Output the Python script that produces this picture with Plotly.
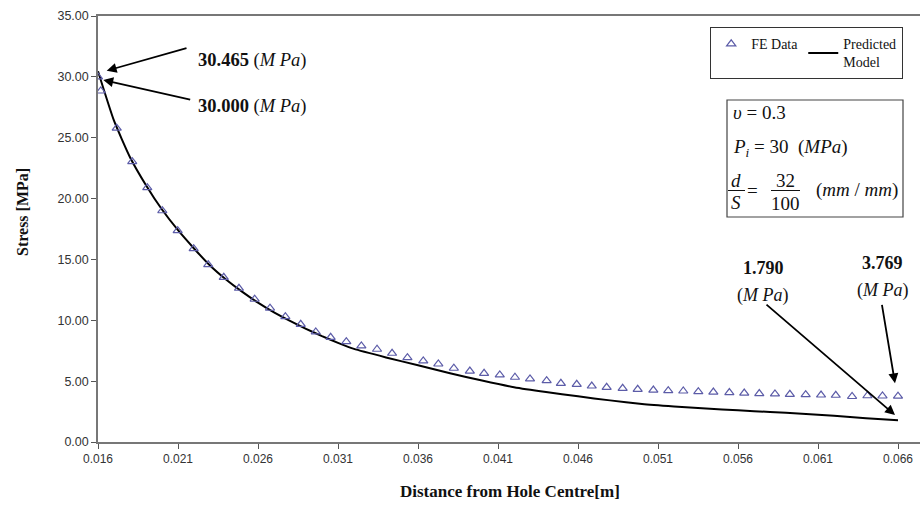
import plotly.graph_objects as go

# ---------------- data ----------------
fe_x_mm = [16.0, 16.17, 17.17, 18.14, 19.08, 20.02, 20.98, 21.98, 22.89, 23.86,
           24.81, 25.79, 26.75, 27.71, 28.67, 29.61, 30.54, 31.52, 32.46, 33.44,
           34.38, 35.34, 36.33, 37.27, 38.24, 39.24, 40.13, 41.11, 42.06, 43.0,
           44.04, 44.93, 45.92, 46.86, 47.79, 48.79, 49.73, 50.71, 51.64, 52.58,
           53.52, 54.46, 55.46, 56.39, 57.33, 58.31, 59.24, 60.23, 61.19, 62.11,
           63.13, 64.09, 65.03, 66.0]
fe_stress = [30.00, 28.84, 25.78, 23.03, 20.90, 19.00, 17.36, 15.88, 14.57, 13.53,
             12.63, 11.73, 10.99, 10.30, 9.67, 9.04, 8.60, 8.24, 7.89, 7.62,
             7.29, 6.93, 6.66, 6.41, 6.06, 5.83, 5.64, 5.51, 5.32, 5.18,
             5.04, 4.82, 4.74, 4.60, 4.49, 4.41, 4.33, 4.27, 4.22, 4.19,
             4.14, 4.10, 4.06, 4.02, 3.98, 3.95, 3.92, 3.89, 3.86, 3.84,
             3.74, 3.80, 3.78, 3.769]

model_x_mm = [16, 17, 18, 19, 20, 21, 22, 23, 24, 25, 26, 27, 28, 29, 30, 31, 32,
              34, 36, 38, 40, 42, 44, 46, 48, 50, 52, 54, 56, 58, 60, 62, 64, 66]
model_stress = [30.465, 26.4, 23.4, 21.1, 19.1, 17.4, 15.9, 14.5, 13.35, 12.35,
                11.45, 10.65, 9.95, 9.3, 8.7, 8.15, 7.65, 6.95, 6.3, 5.65, 5.05,
                4.5, 4.1, 3.75, 3.42, 3.12, 2.92, 2.76, 2.6, 2.47, 2.33, 2.15,
                1.95, 1.79]

x_ticks = [0.016, 0.021, 0.026, 0.031, 0.036, 0.041, 0.046, 0.051, 0.056, 0.061, 0.066]
x_tick_labels = ["0.016", "0.021", "0.026", "0.031", "0.036", "0.041",
                 "0.046", "0.051", "0.056", "0.061", "0.066"]
y_ticks = [0, 5, 10, 15, 20, 25, 30, 35]
y_tick_labels = ["0.00", "5.00", "10.00", "15.00", "20.00", "25.00", "30.00", "35.00"]

fe_x = [v / 1000 for v in fe_x_mm]
model_x = [v / 1000 for v in model_x_mm]

# ---------------- layout geometry (pixels) ----------------
W, H = 920, 512
L, R, T, B = 98, 0, 16, 70
PW, PH = W - L - R, H - T - B
XMIN = 0.016
PX_PER_M = 16000.0
XMAX = XMIN + PW / PX_PER_M
YMAX = 35.0


def px2x(px):
    return XMIN + (px - L) / PX_PER_M


def py2y(py):
    return (H - B - py) * YMAX / PH


def px2p(px):
    return (px - L) / PW


def py2p(py):
    return (H - B - py) / PH


SERIF = "Liberation Serif, Times New Roman, serif"
SANS = "Liberation Sans, Arial, sans-serif"

fig = go.Figure()
fig.add_trace(go.Scatter(
    x=model_x, y=model_stress, mode="lines", name="Predicted<br>Model",
    line=dict(color="black", width=2, shape="spline", smoothing=0.5),
    legendrank=2))
fig.add_trace(go.Scatter(
    x=fe_x, y=fe_stress, mode="markers", name="FE Data",
    marker=dict(symbol="triangle-up-open", size=8, color="#5c5ca8",
                line=dict(width=1.2, color="#5c5ca8")),
    legendrank=1))

annotations = []
# arrows (text-less annotations)
arrows = [
    ((106.7, 70.7), (188, 47.7)),
    ((103.3, 80.0), (191.7, 100.0)),
    ((895, 415.0), (765, 303.3)),
    ((895, 383.3), (881.7, 303.3)),
]
for (hx, hy), (tx, ty) in arrows:
    annotations.append(dict(
        x=px2x(hx), y=py2y(hy), ax=px2x(tx), ay=py2y(ty), axref="x", ayref="y",
        xref="x", yref="y", text="", showarrow=True, arrowhead=2, arrowsize=1.1,
        arrowwidth=1.8, arrowcolor="black"))


def txt(px, py, text, size=18, xanchor="center", font=SERIF, **kw):
    annotations.append(dict(
        x=px2p(px), y=py2p(py), xref="paper", yref="paper", text=text,
        showarrow=False, xanchor=xanchor, yanchor="middle",
        font=dict(family=font, size=size, color="#111"), **kw))


txt(196, 61, "<b>30.465</b> (<i>M Pa</i>)", size=18.5, xanchor="left")
txt(196, 106.7, "<b>30.000</b> (<i>M Pa</i>)", size=18.5, xanchor="left")
txt(763, 268, "<b>1.790</b>")
txt(763, 295, "(<i>M Pa</i>)")
txt(882, 263, "<b>3.769</b>")
txt(883, 290, "(<i>M Pa</i>)")

# parameter box text
txt(731, 113, "<i>υ</i> = 0.3", size=19, xanchor="left")
txt(731, 148, "<i>P<sub>i</sub></i> = 30  (<i>MPa</i>)", size=19, xanchor="left")
txt(736, 180, "<i>d</i>", size=19)
txt(736, 202, "<i>S</i>", size=19)
txt(752, 190, "=", size=19)
txt(785, 180, "32", size=19)
txt(785, 203, "100", size=19)
txt(857, 190, "(<i>mm</i> / <i>mm</i>)", size=19)

# axis titles
txt(22, 212, "<b>Stress [MPa]</b>", size=16, textangle=-90)
txt(510, 491, "<b>Distance from Hole Centre[m]</b>", size=17)

shapes = [
    dict(type="rect", xref="paper", yref="paper",
         x0=px2p(727), x1=px2p(903), y0=py2p(217), y1=py2p(100),
         line=dict(color="#444", width=1.2)),
    dict(type="line", xref="paper", yref="paper",
         x0=px2p(728), x1=px2p(745), y0=py2p(190.5), y1=py2p(190.5),
         line=dict(color="#111", width=1)),
    dict(type="line", xref="paper", yref="paper",
         x0=px2p(771), x1=px2p(800), y0=py2p(190.5), y1=py2p(190.5),
         line=dict(color="#111", width=1)),
]

fig.update_layout(
    width=W, height=H, margin=dict(l=L, r=R, t=T, b=B, pad=0),
    paper_bgcolor="white", plot_bgcolor="white",
    font=dict(family=SANS, color="#222"),
    xaxis=dict(range=[XMIN, XMAX], tickmode="array", tickvals=x_ticks,
               ticktext=x_tick_labels, ticks="outside", ticklen=5,
               tickcolor="#555", showline=True, linecolor="#777", linewidth=1.5,
               mirror=True, showgrid=False, zeroline=False,
               tickfont=dict(family=SANS, size=12, color="#333")),
    yaxis=dict(range=[0, YMAX], tickmode="array", tickvals=y_ticks,
               ticktext=y_tick_labels, ticks="outside", ticklen=5,
               tickcolor="#555", showline=True, linecolor="#777", linewidth=1.5,
               showgrid=False, zeroline=False,
               tickfont=dict(family=SANS, size=12.5, color="#333")),
    showlegend=True,
    legend=dict(orientation="h", x=px2p(710), y=py2p(27), xanchor="left",
                yanchor="top", bordercolor="#333", borderwidth=1.2,
                bgcolor="white", font=dict(family=SERIF, size=14, color="#111"),
                itemwidth=30),
    annotations=annotations, shapes=shapes,
)

fig.write_html(
    "out.html",
    config={"displayModeBar": False},
    post_script="document.body.style.margin='0';document.body.style.overflow='hidden';",
)
